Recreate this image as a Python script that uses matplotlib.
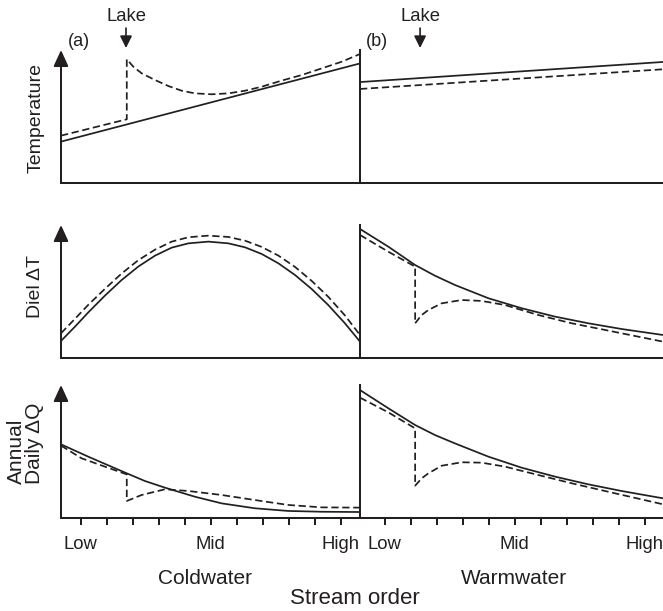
import numpy as np
import matplotlib.pyplot as plt

# stream order runs along x (one unit per tick), y is a relative 0-10 scale
plt.rcParams['font.family'] = ['Liberation Sans', 'DejaVu Sans']
ink = '#231f20'
W, H = 663, 611

# --- (a) coldwater, (b) warmwater; *_lake = with a lake (dashed)
temp_cold_x = [0, 11.5]
temp_cold_y = [3.11, 8.99]
temp_cold_lake_x = [0, 2.53, 2.53, 2.78, 3.10, 3.62, 4.13, 4.64, 5.15, 5.80, 6.44,
                    7.08, 7.72, 8.49, 9.26, 10.03, 10.8, 11.5]
temp_cold_lake_y = [3.56, 4.79, 9.30, 8.75, 8.25, 7.74, 7.29, 6.94, 6.74, 6.67, 6.74,
                    6.94, 7.24, 7.70, 8.12, 8.62, 9.12, 9.70]
temp_warm_x = [0, 11.65]
temp_warm_y = [7.59, 9.10]
temp_warm_lake_x = [0, 11.65]
temp_warm_lake_y = [7.07, 8.55]

diel_cold_x = [0, 0.54, 1.05, 1.69, 2.33, 2.97, 3.62, 4.26, 4.90, 5.67, 6.44, 7.08,
               7.72, 8.36, 9.0, 9.64, 10.28, 10.92, 11.5]
diel_cold_y = [1.28, 2.36, 3.43, 4.69, 5.86, 6.87, 7.70, 8.30, 8.62, 8.75, 8.62, 8.32,
               7.82, 7.12, 6.24, 5.19, 3.98, 2.61, 1.23]
diel_cold_lake_y = [1.86, 2.95, 4.0, 5.2, 6.35, 7.35, 8.15, 8.75, 9.08, 9.2, 9.1, 8.82,
                    8.35, 7.7, 6.85, 5.8, 4.6, 3.2, 1.73]
diel_warm_x = [0, 1.09, 2.12, 2.88, 3.65, 4.94, 6.22, 7.5, 8.78, 10.06, 11.65]
diel_warm_y = [9.70, 8.37, 6.99, 6.19, 5.49, 4.49, 3.74, 3.11, 2.61, 2.18, 1.73]
diel_warm_lake_x = [0, 1.09, 2.12, 2.12, 2.37, 2.63, 3.14, 3.91, 4.68, 5.58, 6.86,
                    8.14, 9.42, 11.65]
diel_warm_lake_y = [9.25, 7.99, 6.87, 2.61, 3.23, 3.61, 4.11, 4.36, 4.29, 3.98, 3.23,
                    2.61, 2.11, 1.23]

flow_cold_x = [0, 1.05, 2.53, 3.23, 4.0, 5.15, 6.18, 7.46, 8.74, 10.03, 11.5]
flow_cold_y = [5.54, 4.61, 3.36, 2.78, 2.28, 1.60, 1.10, 0.73, 0.53, 0.47, 0.45]
flow_cold_lake_x = [0, 0.79, 1.69, 2.53, 2.53, 3.1, 4.0, 4.9, 6.18, 7.46, 8.74, 10.03, 11.5]
flow_cold_lake_y = [5.44, 4.49, 3.86, 3.28, 1.28, 1.73, 2.16, 2.03, 1.73, 1.35, 0.98, 0.80, 0.78]
flow_warm_x = [0, 1.09, 2.12, 2.88, 3.65, 4.94, 6.22, 7.5, 8.78, 10.06, 11.65]
flow_warm_y = [9.62, 8.25, 6.99, 6.24, 5.61, 4.61, 3.78, 3.11, 2.53, 2.03, 1.48]
flow_warm_lake_x = [0, 1.09, 2.12, 2.12, 2.37, 2.63, 3.14, 3.91, 4.68, 5.58, 6.86,
                    8.14, 9.42, 11.65]
flow_warm_lake_y = [9.05, 7.94, 6.74, 2.43, 2.98, 3.36, 3.93, 4.19, 4.16, 3.86, 3.23,
                    2.61, 2.03, 1.03]

order_labels = ['Low', '', '', '', '', 'Mid', '', '', '', '', 'High']
lake_cold_x = 2.5
lake_warm_x = 2.31

fig = plt.figure(figsize=(W / 100, H / 100), dpi=100)


def px(x, y):
    return x / W, 1 - y / H


def make_ax(x0, x1, ybot, xmax, first):
    ax = fig.add_axes([x0 / W, 1 - ybot / H, (x1 - x0) / W, 133 / H])
    ax.set_xlim(0, xmax)
    ax.set_ylim(0, 10)
    ax.patch.set_visible(False)
    for s in ['top', 'right']:
        ax.spines[s].set_visible(False)
    for s in ['left', 'bottom']:
        ax.spines[s].set_linewidth(1.45)
        ax.spines[s].set_color(ink)
    ax.set_yticks([])
    ax.set_xticks([])
    if first:
        ax.spines['left'].set_visible(False)
        ax.annotate('', xy=(0, 1.0), xytext=(0, 0), xycoords='axes fraction',
                    arrowprops=dict(arrowstyle='-|>,head_length=0.7,head_width=0.32',
                                    mutation_scale=14, lw=1.45, color=ink,
                                    shrinkA=0, shrinkB=0))
    return ax


def draw(ax, x, y, lake_x, lake_y):
    ax.plot(x, y, color=ink, lw=1.25, clip_on=False, solid_capstyle='butt')
    ax.plot(lake_x, lake_y, color=ink, lw=1.25, dashes=(4.2, 2.1), clip_on=False)


rows = [183, 358, 518]
axes = []
for yb in rows:
    a = make_ax(61, 360, yb, 11.5, True)
    b = make_ax(360, 663, yb, 11.65, False)
    axes.append((a, b))

draw(axes[0][0], temp_cold_x, temp_cold_y, temp_cold_lake_x, temp_cold_lake_y)
draw(axes[0][1], temp_warm_x, temp_warm_y, temp_warm_lake_x, temp_warm_lake_y)
draw(axes[1][0], diel_cold_x, diel_cold_y, diel_cold_x, diel_cold_lake_y)
draw(axes[1][1], diel_warm_x, diel_warm_y, diel_warm_lake_x, diel_warm_lake_y)
draw(axes[2][0], flow_cold_x, flow_cold_y, flow_cold_lake_x, flow_cold_lake_y)
draw(axes[2][1], flow_warm_x, flow_warm_y, flow_warm_lake_x, flow_warm_lake_y)

# ticks on the bottom row only
for ax, off in [(axes[2][0], 0.75), (axes[2][1], 0.95)]:
    ax.set_xticks(np.arange(11) + off)
    ax.set_xticklabels(order_labels, fontsize=13.3, color=ink)
    ax.tick_params(axis='x', direction='out', length=5, width=1.45, color=ink, pad=8)

# lake markers over the temperature row
for ax, lx in [(axes[0][0], lake_cold_x), (axes[0][1], lake_warm_x)]:
    ax.text(lx, 1.25, 'Lake', transform=ax.get_xaxis_transform(), ha='center',
            va='center', fontsize=13.3, color=ink)
    ax.annotate('', xy=(lx, 1.015), xytext=(lx, 1.165),
                xycoords=ax.get_xaxis_transform(),
                arrowprops=dict(arrowstyle='-|>,head_length=0.6,head_width=0.3',
                                mutation_scale=12, lw=1.2, color=ink,
                                shrinkA=0, shrinkB=0))

fig.text(*px(79, 42), '(a)', ha='center', va='center', fontsize=13, color=ink)
fig.text(*px(377, 42), '(b)', ha='center', va='center', fontsize=13, color=ink)

fig.text(*px(36, 118), 'Temperature', rotation=90, ha='center', va='center',
         fontsize=14, color=ink)
fig.text(*px(36, 287), 'Diel ΔT', rotation=90, ha='center', va='center',
         fontsize=14, color=ink)
fig.text(*px(25.5, 443), 'Annual\nDaily ΔQ', rotation=90, ha='center', va='center',
         multialignment='left', linespacing=1.0, fontsize=15, color=ink)

fig.text(*px(205, 578), 'Coldwater', ha='center', va='center', fontsize=15, color=ink)
fig.text(*px(514, 578), 'Warmwater', ha='center', va='center', fontsize=15, color=ink)
fig.text(*px(355, 599), 'Stream order', ha='center', va='center', fontsize=16, color=ink)

fig.savefig('out.png', dpi=100)
